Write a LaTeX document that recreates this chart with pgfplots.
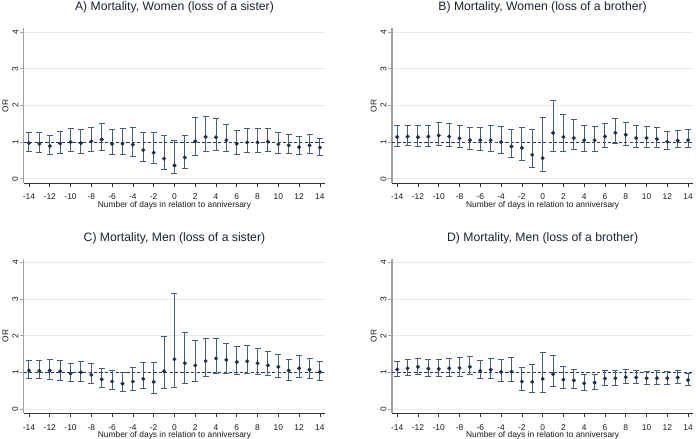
\documentclass[border=0pt]{standalone}
\usepackage{pgfplots}
\usepackage{pgfplotstable}
\pgfplotsset{compat=1.18}
\usepackage{fontspec}
\setmainfont{Liberation Sans}

\definecolor{markcol}{RGB}{26,48,74}
\definecolor{barcol}{RGB}{72,94,120}
\definecolor{dashcol}{RGB}{40,60,85}
\definecolor{gridcol}{RGB}{234,234,234}
\definecolor{yaxcol}{RGB}{160,160,160}
\definecolor{titlecol}{RGB}{25,35,50}

% day, odds ratio, lower and upper 95% CI
\pgfplotstableread{
x y lo hi
-14 0.97 0.73 1.26
-13 0.95 0.72 1.26
-12 0.89 0.66 1.18
-11 0.96 0.69 1.29
-10 1.00 0.74 1.36
-9 0.97 0.70 1.34
-8 1.02 0.74 1.41
-7 1.07 0.77 1.50
-6 0.95 0.67 1.35
-5 0.95 0.65 1.36
-4 0.93 0.61 1.39
-3 0.78 0.48 1.26
-2 0.71 0.41 1.25
-1 0.55 0.25 1.18
0 0.36 0.13 1.03
1 0.58 0.29 1.19
2 1.02 0.63 1.66
3 1.14 0.75 1.71
4 1.13 0.77 1.65
5 1.05 0.74 1.48
6 0.95 0.67 1.31
7 0.99 0.72 1.37
8 0.99 0.71 1.37
9 1.01 0.75 1.36
10 0.94 0.69 1.25
11 0.91 0.68 1.20
12 0.86 0.65 1.15
13 0.91 0.69 1.20
14 0.85 0.64 1.11
}\tabA

\pgfplotstableread{
x y lo hi
-14 1.14 0.89 1.45
-13 1.15 0.90 1.45
-12 1.13 0.87 1.44
-11 1.15 0.89 1.46
-10 1.18 0.92 1.54
-9 1.15 0.89 1.50
-8 1.10 0.84 1.45
-7 1.05 0.80 1.39
-6 1.05 0.78 1.39
-5 1.05 0.75 1.45
-4 1.00 0.69 1.42
-3 0.88 0.58 1.34
-2 0.84 0.50 1.39
-1 0.65 0.31 1.35
0 0.56 0.19 1.66
1 1.25 0.75 2.14
2 1.14 0.75 1.74
3 1.11 0.79 1.62
4 1.05 0.74 1.45
5 1.05 0.75 1.42
6 1.15 0.86 1.52
7 1.25 0.96 1.64
8 1.20 0.92 1.53
9 1.11 0.86 1.45
10 1.11 0.85 1.43
11 1.08 0.85 1.40
12 1.01 0.79 1.30
13 1.04 0.84 1.32
14 1.05 0.84 1.34
}\tabB

\pgfplotstableread{
x y lo hi
-14 1.05 0.82 1.33
-13 1.04 0.82 1.33
-12 1.05 0.81 1.35
-11 1.03 0.79 1.33
-10 0.97 0.74 1.25
-9 1.00 0.75 1.30
-8 0.93 0.69 1.23
-7 0.81 0.60 1.10
-6 0.75 0.54 1.05
-5 0.69 0.47 1.01
-4 0.75 0.51 1.14
-3 0.82 0.55 1.27
-2 0.74 0.43 1.27
-1 1.03 0.55 1.98
0 1.36 0.58 3.16
1 1.25 0.71 2.10
2 1.19 0.74 1.86
3 1.31 0.89 1.93
4 1.38 0.97 1.93
5 1.34 0.97 1.80
6 1.28 0.95 1.71
7 1.30 0.97 1.72
8 1.25 0.95 1.65
9 1.19 0.91 1.56
10 1.15 0.86 1.48
11 1.05 0.79 1.35
12 1.11 0.85 1.45
13 1.07 0.84 1.38
14 1.01 0.78 1.30
}\tabC

\pgfplotstableread{
x y lo hi
-14 1.08 0.89 1.30
-13 1.11 0.92 1.35
-12 1.15 0.95 1.39
-11 1.10 0.90 1.35
-10 1.09 0.88 1.35
-9 1.11 0.89 1.38
-8 1.12 0.90 1.41
-7 1.15 0.93 1.43
-6 1.04 0.83 1.32
-5 1.07 0.84 1.38
-4 1.01 0.76 1.35
-3 1.02 0.74 1.41
-2 0.75 0.51 1.13
-1 0.74 0.45 1.21
0 0.82 0.44 1.54
1 0.95 0.61 1.46
2 0.80 0.55 1.15
3 0.78 0.56 1.07
4 0.70 0.51 0.94
5 0.72 0.53 0.94
6 0.83 0.64 1.04
7 0.84 0.65 1.05
8 0.87 0.70 1.07
9 0.86 0.69 1.06
10 0.84 0.67 1.03
11 0.84 0.66 1.04
12 0.84 0.67 1.02
13 0.86 0.69 1.04
14 0.79 0.63 0.97
}\tabD

\pgfplotsset{
  panel/.style={
    scale only axis,
    width=301.3pt, height=154.7pt,
    anchor=south west,
    xmin=-14.5, xmax=14.5,
    ymin=-0.12, ymax=4.1,
    xtick={-14,-12,...,14},
    ytick={0,1,2,3,4},
    axis x line*=bottom,
    axis y line*=left,
    x axis line style={-, draw=black!80, line width=0.6pt},
    y axis line style={-, draw=yaxcol, line width=1.2pt},
    tick align=outside,
    major tick length=4pt,
    xtick style={draw=black!80, line width=0.6pt},
    ytick style={draw=yaxcol, line width=0.6pt},
    ymajorgrids,
    major grid style={draw=gridcol, line width=0.6pt},
    /pgf/number format/assume math mode=true,
    tick label style={font=\fontsize{8.4}{10}\selectfont, text=black!90},
    yticklabel style={rotate=90, anchor=south, yshift=-2pt},
    xticklabel style={yshift=-3.5pt},
    xlabel={Number of days in relation to anniversary},
    xlabel style={font=\fontsize{8.4}{10}\selectfont, text=black!90, yshift=5.5pt},
    ylabel={OR},
    ylabel style={font=\fontsize{8.4}{10}\selectfont, text=black!90, yshift=-3pt},
    title style={font=\fontsize{12.2}{14}\selectfont, text=titlecol, anchor=base, at={(0.5,1)}, yshift=11.5pt},
    clip=false,
  },
  ci/.style={
    only marks, mark=*, mark size=1.8pt,
    mark options={fill=markcol, draw=markcol},
    error bars/.cd, y dir=both, y explicit,
    error bar style={draw=barcol, line width=1pt},
    error mark options={rotate=90, mark size=3pt, draw=barcol, line width=0.9pt},
  },
  refline/.style={dashcol, line width=0.8pt, dash pattern=on 3.2pt off 2.2pt},
}

\newcommand{\panel}[1]{%
  \addplot[refline] coordinates {(-14.5,1) (14.5,1)};
  \addplot[ci] table[x=x, y=y,
    y error plus expr=\thisrow{hi}-\thisrow{y},
    y error minus expr=\thisrow{y}-\thisrow{lo}] {#1};
}

\begin{document}
\begin{tikzpicture}
\path[use as bounding box] (0,0) rectangle (696pt,439pt);

\begin{axis}[panel, at={(23.8pt,255.9pt)},
  title={A) Mortality, Women (loss of a sister)}]
\panel{\tabA}
\end{axis}

\begin{axis}[panel, at={(392pt,255.9pt)},
  title={B) Mortality, Women (loss of a brother)}]
\panel{\tabB}
\end{axis}

\begin{axis}[panel, at={(23.8pt,25.6pt)},
  title={C) Mortality, Men (loss of a sister)}]
\panel{\tabC}
\end{axis}

\begin{axis}[panel, at={(392pt,25.6pt)},
  title={D) Mortality, Men (loss of a brother)}]
\panel{\tabD}
\end{axis}
\end{tikzpicture}
\end{document}
